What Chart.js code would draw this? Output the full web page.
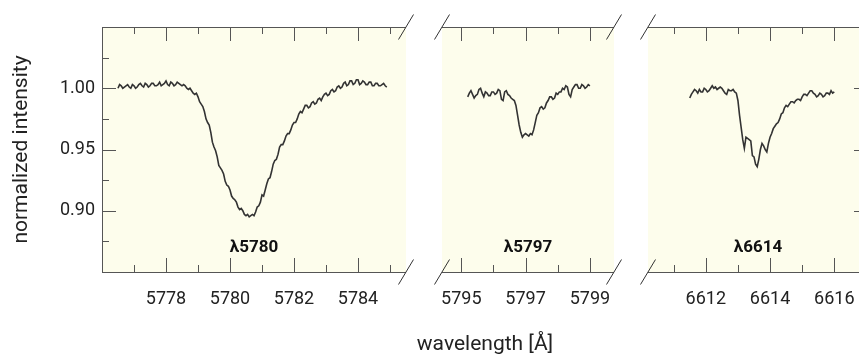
<!DOCTYPE html>
<html>
<head>
<meta charset="utf-8">
<script src="https://cdn.jsdelivr.net/npm/chart.js@4.4.1/dist/chart.umd.min.js"></script>
<style>
  html, body { margin: 0; padding: 0; background: #fff; }
  body { width: 859px; height: 359px; overflow: hidden; position: relative; font-family: Roboto, sans-serif; }
  .panel { position: absolute; top: 0; }
  #xtitle { position: absolute; left: 385px; width: 200px; top: 331px; text-align: center; font-size: 21px; color: #222; white-space: nowrap; }
</style>
</head>
<body>
<div class="panel" style="left:0px"><canvas id="c5780" width="425" height="359"></canvas></div>
<div class="panel" style="left:425px"><canvas id="c5797" width="200" height="359"></canvas></div>
<div class="panel" style="left:630px"><canvas id="c6614" width="250" height="359"></canvas></div>
<div id="xtitle">wavelength [Å]</div>
<script>
// DIB λ5780
const wl5780 = [5776.50, 5776.55, 5776.60, 5776.65, 5776.70, 5776.75, 5776.80, 5776.85, 5776.90, 5776.95,
  5777.00, 5777.05, 5777.10, 5777.15, 5777.20, 5777.25, 5777.30, 5777.35, 5777.40, 5777.45,
  5777.50, 5777.55, 5777.60, 5777.65, 5777.70, 5777.75, 5777.80, 5777.85, 5777.90, 5777.95,
  5778.00, 5778.05, 5778.10, 5778.15, 5778.20, 5778.25, 5778.30, 5778.35, 5778.40, 5778.45,
  5778.50, 5778.55, 5778.60, 5778.65, 5778.70, 5778.75, 5778.80, 5778.85, 5778.90, 5778.95,
  5779.00, 5779.05, 5779.10, 5779.15, 5779.20, 5779.25, 5779.30, 5779.35, 5779.40, 5779.45,
  5779.50, 5779.55, 5779.60, 5779.65, 5779.70, 5779.75, 5779.80, 5779.85, 5779.90, 5779.95,
  5780.00, 5780.05, 5780.10, 5780.15, 5780.20, 5780.25, 5780.30, 5780.35, 5780.40, 5780.45,
  5780.50, 5780.55, 5780.60, 5780.65, 5780.70, 5780.75, 5780.80, 5780.85, 5780.90, 5780.95,
  5781.00, 5781.05, 5781.10, 5781.15, 5781.20, 5781.25, 5781.30, 5781.35, 5781.40, 5781.45,
  5781.50, 5781.55, 5781.60, 5781.65, 5781.70, 5781.75, 5781.80, 5781.85, 5781.90, 5781.95,
  5782.00, 5782.05, 5782.10, 5782.15, 5782.20, 5782.25, 5782.30, 5782.35, 5782.40, 5782.45,
  5782.50, 5782.55, 5782.60, 5782.65, 5782.70, 5782.75, 5782.80, 5782.85, 5782.90, 5782.95,
  5783.00, 5783.05, 5783.10, 5783.15, 5783.20, 5783.25, 5783.30, 5783.35, 5783.40, 5783.45,
  5783.50, 5783.55, 5783.60, 5783.65, 5783.70, 5783.75, 5783.80, 5783.85, 5783.90, 5783.95,
  5784.00, 5784.05, 5784.10, 5784.15, 5784.20, 5784.25, 5784.30, 5784.35, 5784.40, 5784.45,
  5784.50, 5784.55, 5784.60, 5784.65, 5784.70, 5784.75, 5784.80, 5784.85, 5784.90];
const int5780 = [1.000, 1.003, 1.002, 1.000, 1.001, 1.002, 1.003, 1.001, 1.000, 1.003,
  1.002, 1.000, 1.001, 1.003, 1.004, 1.002, 1.001, 1.004, 1.003, 1.001,
  1.002, 1.004, 1.004, 1.002, 1.002, 1.003, 1.005, 1.002, 1.003, 1.004,
  1.006, 1.003, 1.002, 1.005, 1.004, 1.002, 1.003, 1.005, 1.004, 1.003,
  1.002, 1.003, 1.002, 1.000, 0.999, 1.000, 0.998, 0.996, 0.995, 0.996,
  0.993, 0.989, 0.987, 0.985, 0.981, 0.975, 0.972, 0.970, 0.964, 0.956,
  0.952, 0.949, 0.944, 0.937, 0.935, 0.933, 0.930, 0.924, 0.921, 0.920,
  0.917, 0.912, 0.910, 0.909, 0.907, 0.903, 0.901, 0.902, 0.900, 0.897,
  0.896, 0.897, 0.895, 0.896, 0.897, 0.896, 0.899, 0.903, 0.904, 0.907,
  0.913, 0.912, 0.917, 0.922, 0.926, 0.927, 0.932, 0.938, 0.941, 0.942,
  0.946, 0.952, 0.954, 0.954, 0.957, 0.961, 0.963, 0.963, 0.966, 0.970,
  0.972, 0.972, 0.975, 0.979, 0.981, 0.980, 0.983, 0.986, 0.986, 0.984,
  0.985, 0.988, 0.989, 0.987, 0.988, 0.991, 0.992, 0.990, 0.993, 0.995,
  0.996, 0.994, 0.995, 0.998, 0.999, 0.997, 0.998, 1.001, 1.002, 1.000,
  1.001, 1.004, 1.005, 1.002, 1.003, 1.006, 1.006, 1.003, 1.004, 1.007,
  1.007, 1.003, 1.004, 1.006, 1.005, 1.003, 1.003, 1.005, 1.005, 1.002,
  1.002, 1.004, 1.004, 1.002, 1.002, 1.003, 1.004, 1.002, 1.001];

// DIB λ5797
const wl5797 = [5795.20, 5795.25, 5795.30, 5795.35, 5795.40, 5795.45, 5795.50, 5795.55, 5795.60, 5795.65,
  5795.70, 5795.75, 5795.80, 5795.85, 5795.90, 5795.95, 5796.00, 5796.05, 5796.10, 5796.15,
  5796.20, 5796.25, 5796.30, 5796.35, 5796.40, 5796.45, 5796.50, 5796.55, 5796.60, 5796.65,
  5796.70, 5796.75, 5796.80, 5796.85, 5796.90, 5796.95, 5797.00, 5797.05, 5797.10, 5797.15,
  5797.20, 5797.25, 5797.30, 5797.35, 5797.40, 5797.45, 5797.50, 5797.55, 5797.60, 5797.65,
  5797.70, 5797.75, 5797.80, 5797.85, 5797.90, 5797.95, 5798.00, 5798.05, 5798.10, 5798.15,
  5798.20, 5798.25, 5798.30, 5798.35, 5798.40, 5798.45, 5798.50, 5798.55, 5798.60, 5798.65,
  5798.70, 5798.75, 5798.80, 5798.85, 5798.90, 5798.95, 5799.00];
const int5797 = [0.993, 0.996, 0.998, 0.995, 0.992, 0.994, 0.995, 0.999, 1.000, 0.996,
  0.993, 0.997, 0.996, 0.994, 0.994, 0.997, 0.997, 0.995, 0.996, 0.999,
  0.998, 0.991, 0.990, 0.997, 0.998, 0.995, 0.994, 0.992, 0.991, 0.990,
  0.986, 0.978, 0.970, 0.964, 0.960, 0.962, 0.963, 0.962, 0.961, 0.963,
  0.962, 0.966, 0.972, 0.978, 0.980, 0.984, 0.985, 0.983, 0.984, 0.988,
  0.990, 0.993, 0.993, 0.991, 0.992, 0.996, 0.995, 0.997, 0.997, 1.000,
  0.999, 1.002, 1.001, 0.995, 0.993, 0.999, 1.001, 1.003, 1.003, 1.000,
  1.000, 1.003, 1.002, 1.000, 1.001, 1.003, 1.002];

// DIB λ6614
const wl6614 = [6611.50, 6611.55, 6611.60, 6611.65, 6611.70, 6611.75, 6611.80, 6611.85, 6611.90, 6611.95,
  6612.00, 6612.05, 6612.10, 6612.15, 6612.20, 6612.25, 6612.30, 6612.35, 6612.40, 6612.45,
  6612.50, 6612.55, 6612.60, 6612.65, 6612.70, 6612.75, 6612.80, 6612.85, 6612.90, 6612.95,
  6613.00, 6613.05, 6613.10, 6613.15, 6613.20, 6613.25, 6613.30, 6613.35, 6613.40, 6613.45,
  6613.50, 6613.55, 6613.60, 6613.65, 6613.70, 6613.75, 6613.80, 6613.85, 6613.90, 6613.95,
  6614.00, 6614.05, 6614.10, 6614.15, 6614.20, 6614.25, 6614.30, 6614.35, 6614.40, 6614.45,
  6614.50, 6614.55, 6614.60, 6614.65, 6614.70, 6614.75, 6614.80, 6614.85, 6614.90, 6614.95,
  6615.00, 6615.05, 6615.10, 6615.15, 6615.20, 6615.25, 6615.30, 6615.35, 6615.40, 6615.45,
  6615.50, 6615.55, 6615.60, 6615.65, 6615.70, 6615.75, 6615.80, 6615.85, 6615.90, 6615.95,
  6616.00];
const int6614 = [0.992, 0.995, 0.997, 0.999, 0.998, 0.996, 0.999, 0.997, 0.997, 1.000,
  0.999, 0.997, 0.998, 1.000, 1.002, 1.000, 1.001, 0.999, 1.000, 1.001,
  1.000, 0.998, 0.996, 0.995, 0.999, 0.998, 0.998, 0.999, 0.997, 0.996,
  0.990, 0.978, 0.968, 0.958, 0.951, 0.960, 0.959, 0.958, 0.957, 0.945,
  0.944, 0.938, 0.936, 0.942, 0.950, 0.955, 0.953, 0.950, 0.948, 0.955,
  0.960, 0.963, 0.967, 0.969, 0.971, 0.972, 0.975, 0.979, 0.980, 0.984,
  0.986, 0.985, 0.987, 0.989, 0.989, 0.988, 0.990, 0.991, 0.991, 0.990,
  0.993, 0.995, 0.995, 0.994, 0.996, 0.998, 0.998, 0.996, 0.995, 0.993,
  0.994, 0.996, 0.995, 0.993, 0.994, 0.996, 0.996, 0.995, 0.998, 0.996,
  0.997];

// axis limits and ticks
const xLim5780 = [5776, 5785.5], xLim5797 = [5794.4, 5799.75], xLim6614 = [6610.2, 6617.05];
const ticks5780 = [5778, 5780, 5782, 5784], minor5780 = [5777, 5779, 5781, 5783, 5785];
const ticks5797 = [5795, 5797, 5799], minor5797 = [5796, 5798];
const ticks6614 = [6612, 6614, 6616], minor6614 = [6611, 6613, 6615];
const yLim = [0.85, 1.05];
const yTicks = [0.90, 0.95, 1.00], yMinor = [0.875, 0.925, 0.975, 1.025];

const FONT = 'Roboto, sans-serif';
const SPINE = '#555';

// background, spines, inward ticks, axis-break marks and the line label
const panelDeco = {
  id: 'panelDeco',
  beforeDraw(chart) {
    const { ctx, chartArea: a } = chart;
    ctx.save();
    ctx.fillStyle = '#fdfdec';
    ctx.fillRect(a.left, a.top, a.right - a.left, a.bottom - a.top);
    ctx.restore();
  },
  afterDraw(chart, args, o) {
    const { ctx, chartArea: a, scales: { x, y } } = chart;
    const line = (x1, y1, x2, y2) => { ctx.beginPath(); ctx.moveTo(x1, y1); ctx.lineTo(x2, y2); ctx.stroke(); };
    const snap = v => Math.round(v) + 0.5;
    ctx.save();
    ctx.strokeStyle = SPINE;
    ctx.lineWidth = 1;
    const T = snap(a.top), B = snap(a.bottom), L = snap(a.left), R = snap(a.right);
    line(a.left, T, a.right, T);
    line(a.left, B, a.right, B);
    if (o.spineLeft) line(L, a.top, L, a.bottom);
    if (o.spineRight) line(R, a.top, R, a.bottom);
    o.major.forEach(v => { const p = snap(x.getPixelForValue(v)); line(p, a.top, p, a.top + 14); line(p, a.bottom, p, a.bottom - 14); });
    o.minor.forEach(v => { const p = snap(x.getPixelForValue(v)); line(p, a.top, p, a.top + 7); line(p, a.bottom, p, a.bottom - 7); });
    [[yTicks, 14], [yMinor, 7]].forEach(([vals, len]) => vals.forEach(v => {
      const p = snap(y.getPixelForValue(v));
      if (o.spineLeft) line(a.left, p, a.left + len, p);
      if (o.spineRight) line(a.right, p, a.right - len, p);
    }));
    ctx.strokeStyle = '#333';
    o.breaks.forEach(side => {
      const cx = side === 'left' ? a.left : a.right;
      [a.top, a.bottom].forEach(cy => line(cx - 7.5, cy + 12.5, cx + 7.5, cy - 12.5));
    });
    ctx.fillStyle = '#111';
    ctx.font = 'bold 17px ' + FONT;
    ctx.textAlign = 'center';
    ctx.textBaseline = 'middle';
    ctx.fillText(o.label, (a.left + a.right) / 2, y.getPixelForValue(0.870));
    ctx.restore();
  }
};

function makePanel(id, wl, flux, xLim, major, minor, opts) {
  return new Chart(document.getElementById(id), {
    type: 'line',
    data: {
      datasets: [{
        data: wl.map((w, i) => ({ x: w, y: flux[i] })),
        borderColor: '#333',
        borderWidth: 1.6,
        pointRadius: 0,
        tension: 0,
        fill: false,
      }],
    },
    options: {
      responsive: false,
      animation: false,
      events: [],
      layout: { padding: opts.padding, autoPadding: false },
      plugins: {
        legend: { display: false },
        tooltip: { enabled: false },
        panelDeco: { major, minor, label: opts.label, breaks: opts.breaks, spineLeft: !!opts.spineLeft, spineRight: !!opts.spineRight },
      },
      scales: {
        x: {
          type: 'linear',
          min: xLim[0], max: xLim[1],
          grid: { display: false, drawTicks: false },
          border: { display: false },
          afterBuildTicks: s => { s.ticks = major.map(v => ({ value: v })); },
          afterFit: s => { s.height = 87; s.paddingLeft = 0; s.paddingRight = 0; },
          ticks: { autoSkip: false, maxRotation: 0, padding: 17, color: '#222', font: { family: FONT, size: 18 }, callback: v => String(v) },
        },
        y: {
          min: yLim[0], max: yLim[1],
          display: !!opts.showY,
          grid: { display: false, drawTicks: false },
          border: { display: false },
          afterBuildTicks: s => { s.ticks = yTicks.map(v => ({ value: v })); },
          afterFit: s => { if (opts.showY) s.width = 102; s.paddingTop = 0; s.paddingBottom = 0; },
          ticks: { padding: 7, color: '#222', font: { family: FONT, size: 18 }, callback: v => v.toFixed(2) },
          title: { display: !!opts.showY, text: 'normalized intensity', color: '#222', font: { family: FONT, size: 21 }, padding: { top: 9, bottom: 4 } },
        },
      },
    },
    plugins: [panelDeco],
  });
}

makePanel('c5780', wl5780, int5780, xLim5780, ticks5780, minor5780,
  { padding: { top: 27, right: 19, left: 0, bottom: 0 }, label: 'λ5780', breaks: ['right'], spineLeft: true, showY: true });
makePanel('c5797', wl5797, int5797, xLim5797, ticks5797, minor5797,
  { padding: { top: 27, right: 11, left: 17, bottom: 0 }, label: 'λ5797', breaks: ['left', 'right'] });
makePanel('c6614', wl6614, int6614, xLim6614, ticks6614, minor6614,
  { padding: { top: 27, right: 12, left: 18, bottom: 0 }, label: 'λ6614', breaks: ['left'], spineRight: true });
</script>
</body>
</html>
